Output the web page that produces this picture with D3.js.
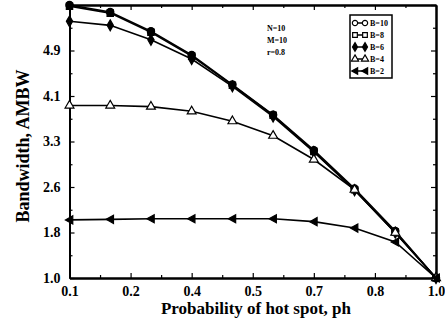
<!DOCTYPE html>
<html>
<head>
<meta charset="utf-8">
<script src="https://cdn.jsdelivr.net/npm/d3@7"></script>
<style>
  body { margin: 0; background: #fff; }
  svg { display: block; }
  .axis text { font-family: 'Liberation Serif', 'Times New Roman', serif; font-weight: bold; }
</style>
</head>
<body>
<div id="chart"></div>
<script>
// data
const probability = [0.1, 0.2, 0.3, 0.4, 0.5, 0.6, 0.7, 0.8, 0.9, 1.0];
const b10 = [5.70, 5.58, 5.25, 4.84, 4.33, 3.81, 3.20, 2.54, 1.81, 1.0];
const b8 = [5.68, 5.56, 5.23, 4.82, 4.32, 3.80, 3.18, 2.52, 1.79, 1.0];
const b6 = [5.42, 5.35, 5.10, 4.77, 4.30, 3.78, 3.17, 2.51, 1.78, 1.0];
const b4 = [3.97, 3.97, 3.95, 3.87, 3.70, 3.45, 3.04, 2.52, 1.78, 1.0];
const b2 = [2.00, 2.01, 2.02, 2.02, 2.02, 2.02, 1.97, 1.86, 1.62, 1.0];

const xTicks = [0.1, 0.25, 0.4, 0.55, 0.7, 0.85, 1.0];
const xTickLabels = ['0.1', '0.2', '0.4', '0.5', '0.7', '0.8', '1.0'];
const yTicks = [1.0, 1.7833, 2.5667, 3.35, 4.1333, 4.9167, 5.7];
const yTickLabels = ['1.0', '1.8', '2.6', '3.3', '4.1', '4.9', ''];
const legendLabels = ['B=10', 'B=8', 'B=6', 'B=4', 'B=2'];
const noteLines = ['N=10', 'M=10', 'r=0.8'];

const width = 445, height = 325;
const plotLeft = 69.5, plotRight = 436, plotTop = 5, plotBottom = 278;

const svg = d3.select('#chart').append('svg')
  .attr('width', width).attr('height', height);

const xScale = d3.scaleLinear().domain([0.1, 1.0]).range([plotLeft, plotRight]);
const yScale = d3.scaleLinear().domain([1.0, 5.7]).range([plotBottom, plotTop]);

// minor tick positions halfway between the labelled ticks
const xMinor = xTicks.slice(1).map((t, i) => (t + xTicks[i]) / 2);
const yMinor = yTicks.slice(1).map((t, i) => (t + yTicks[i]) / 2);

function styleAxis(g) {
  g.select('.domain').attr('stroke', '#000').attr('stroke-width', 2);
  g.selectAll('.tick line').attr('stroke', '#000').attr('stroke-width', 1.2);
}

// bottom
svg.append('g').attr('class', 'axis')
  .attr('transform', 'translate(0,' + plotBottom + ')')
  .call(d3.axisBottom(xScale).tickValues(xTicks)
    .tickFormat((d, i) => xTickLabels[i]).tickSize(-5).tickSizeOuter(0).tickPadding(8))
  .call(styleAxis)
  .selectAll('text').attr('font-size', 14).attr('fill', '#000');
svg.append('g').attr('class', 'axis')
  .attr('transform', 'translate(0,' + plotBottom + ')')
  .call(d3.axisBottom(xScale).tickValues(xMinor).tickFormat('').tickSize(-3).tickSizeOuter(0))
  .call(styleAxis);

// top
svg.append('g').attr('class', 'axis')
  .attr('transform', 'translate(0,' + plotTop + ')')
  .call(d3.axisTop(xScale).tickValues(xTicks).tickFormat('').tickSize(-5).tickSizeOuter(0))
  .call(styleAxis);
svg.append('g').attr('class', 'axis')
  .attr('transform', 'translate(0,' + plotTop + ')')
  .call(d3.axisTop(xScale).tickValues(xMinor).tickFormat('').tickSize(-3).tickSizeOuter(0))
  .call(styleAxis);

// left
svg.append('g').attr('class', 'axis')
  .attr('transform', 'translate(' + plotLeft + ',0)')
  .call(d3.axisLeft(yScale).tickValues(yTicks)
    .tickFormat((d, i) => yTickLabels[i]).tickSize(-5).tickSizeOuter(0).tickPadding(9))
  .call(styleAxis)
  .selectAll('text').attr('font-size', 14).attr('fill', '#000');
svg.append('g').attr('class', 'axis')
  .attr('transform', 'translate(' + plotLeft + ',0)')
  .call(d3.axisLeft(yScale).tickValues(yMinor).tickFormat('').tickSize(-3).tickSizeOuter(0))
  .call(styleAxis);

// right
svg.append('g').attr('class', 'axis')
  .attr('transform', 'translate(' + plotRight + ',0)')
  .call(d3.axisRight(yScale).tickValues(yTicks).tickFormat('').tickSize(-5).tickSizeOuter(0))
  .call(styleAxis);
svg.append('g').attr('class', 'axis')
  .attr('transform', 'translate(' + plotRight + ',0)')
  .call(d3.axisRight(yScale).tickValues(yMinor).tickFormat('').tickSize(-3).tickSizeOuter(0))
  .call(styleAxis);

// axis titles
svg.append('text')
  .attr('x', 256).attr('y', 314)
  .attr('text-anchor', 'middle')
  .style('font-family', "'Liberation Serif', serif").style('font-weight', 'bold')
  .style('font-size', '17px')
  .text('Probability of hot spot, ph');
svg.append('text')
  .attr('transform', 'translate(29,146) rotate(-90)')
  .attr('text-anchor', 'middle')
  .style('font-family', "'Liberation Serif', serif").style('font-weight', 'bold')
  .style('font-size', '18px')
  .text('Bandwidth, AMBW');

// series
const seriesList = [
  { values: b10, marker: d3.symbolCircle, fill: '#000', size: 42 },
  { values: b8, marker: d3.symbolSquare, fill: '#000', size: 40 },
  { values: b6, marker: d3.symbolDiamond, fill: '#000', size: 34 },
  { values: b4, marker: d3.symbolTriangle, fill: '#fff', size: 34 },
  { values: b2, marker: 'left', fill: '#000', size: 34 }
];

const line = d3.line()
  .x((d, i) => xScale(probability[i]))
  .y(d => yScale(d));

function drawMarker(g, s, x, y, size) {
  if (s.marker === 'left') {
    const r = Math.sqrt(size) * 0.7;
    g.append('path')
      .attr('d', 'M' + (x - r) + ',' + y + 'L' + (x + r * 0.8) + ',' + (y - r) +
        'L' + (x + r * 0.8) + ',' + (y + r) + 'Z')
      .attr('fill', s.fill).attr('stroke', '#000').attr('stroke-width', 1.2);
  } else {
    g.append('path')
      .attr('d', d3.symbol().type(s.marker).size(size)())
      .attr('transform', 'translate(' + x + ',' + y + ')')
      .attr('fill', s.fill).attr('stroke', '#000').attr('stroke-width', 1.2);
  }
}

const plot = svg.append('g');
seriesList.forEach(s => {
  plot.append('path')
    .datum(s.values)
    .attr('fill', 'none')
    .attr('stroke', '#000')
    .attr('stroke-width', 1.6)
    .attr('d', line);
});
seriesList.forEach(s => {
  s.values.forEach((v, i) => drawMarker(plot, s, xScale(probability[i]), yScale(v), s.size));
});

// parameter note
noteLines.forEach((t, i) => {
  svg.append('text')
    .attr('x', 267).attr('y', 31 + i * 12)
    .style('font-family', "'Liberation Serif', serif").style('font-weight', 'bold')
    .style('font-size', '8px')
    .text(t);
});

// legend
const legend = svg.append('g').attr('transform', 'translate(350,15)');
legend.append('rect')
  .attr('width', 42).attr('height', 63)
  .attr('fill', '#fff').attr('stroke', '#000').attr('stroke-width', 1.5);
const legendMarks = [
  { marker: d3.symbolCircle, fill: '#fff' },
  { marker: d3.symbolSquare, fill: '#fff' },
  { marker: d3.symbolDiamond, fill: '#000' },
  { marker: d3.symbolTriangle, fill: '#fff' },
  { marker: 'left', fill: '#000' }
];
legendLabels.forEach((lab, i) => {
  const y = 8 + i * 12;
  legend.append('line')
    .attr('x1', 5).attr('x2', 15).attr('y1', y).attr('y2', y)
    .attr('stroke', '#000').attr('stroke-width', 1.5);
  drawMarker(legend, legendMarks[i], 5, y, 22);
  drawMarker(legend, legendMarks[i], 15, y, 22);
  legend.append('text')
    .attr('x', 20).attr('y', y + 3)
    .style('font-family', "'Liberation Serif', serif").style('font-weight', 'bold')
    .style('font-size', '8px')
    .text(lab);
});
</script>
</body>
</html>
